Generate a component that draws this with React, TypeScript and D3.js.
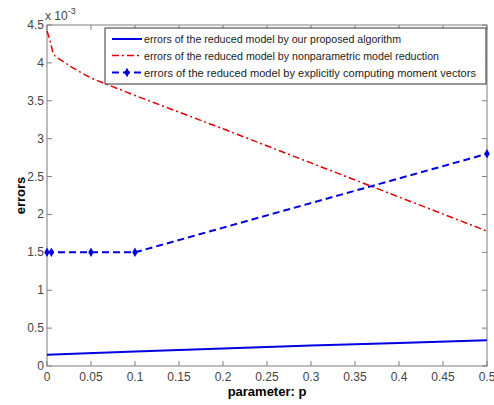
import React, { useEffect, useRef } from "react";
import * as d3 from "d3";

// values are in units of 1e-3
const propP = [0, 0.1, 0.2, 0.3, 0.4, 0.5];
const propErr = [0.15, 0.19, 0.23, 0.27, 0.305, 0.34];

const nonparP = [0, 0.002, 0.004, 0.007, 0.01, 0.03, 0.05, 0.1, 0.2, 0.3, 0.4, 0.5];
const nonparErr = [4.42, 4.35, 4.27, 4.12, 4.08, 3.93, 3.8, 3.57, 3.13, 2.68, 2.23, 1.78];

const explP = [0, 0.005, 0.05, 0.1, 0.5];
const explErr = [1.5, 1.5, 1.5, 1.5, 2.8];

const xTicks = [0, 0.05, 0.1, 0.15, 0.2, 0.25, 0.3, 0.35, 0.4, 0.45, 0.5];
const yTicks = [0, 0.5, 1, 1.5, 2, 2.5, 3, 3.5, 4, 4.5];

const legendLabels = [
  "errors of the reduced model by our proposed algorithm",
  "errors of the reduced model by nonparametric model reduction",
  "errors of the reduced model by explicitly computing moment vectors",
];

export default function App() {
  const ref = useRef<SVGSVGElement>(null);

  useEffect(() => {
    const svg = d3.select(ref.current);
    svg.selectAll("*").remove();
    const left = 47, right = 487, top = 25, bottom = 366;
    const x = d3.scaleLinear().domain([0, 0.5]).range([left, right]);
    const y = d3.scaleLinear().domain([0, 4.5]).range([bottom, top]);
    const font = "Arial, 'Liberation Sans', sans-serif";
    const axisCol = "#7f7f7f";
    const labCol = "#444";

    svg.append("rect").attr("width", 494).attr("height", 405).attr("fill", "#fff");

    // frame
    svg.append("rect")
      .attr("x", left).attr("y", top)
      .attr("width", right - left).attr("height", bottom - top)
      .attr("fill", "none").attr("stroke", axisCol).attr("stroke-width", 1);

    const tl = 5;
    xTicks.forEach(t => {
      svg.append("line").attr("x1", x(t)).attr("x2", x(t)).attr("y1", bottom).attr("y2", bottom - tl).attr("stroke", axisCol);
      svg.append("line").attr("x1", x(t)).attr("x2", x(t)).attr("y1", top).attr("y2", top + tl).attr("stroke", axisCol);
      svg.append("text").attr("x", x(t)).attr("y", bottom + 15)
        .attr("text-anchor", "middle").attr("font-family", font).attr("font-size", 12).attr("fill", labCol)
        .text(String(t));
    });
    yTicks.forEach(t => {
      svg.append("line").attr("x1", left).attr("x2", left + tl).attr("y1", y(t)).attr("y2", y(t)).attr("stroke", axisCol);
      svg.append("line").attr("x1", right).attr("x2", right - tl).attr("y1", y(t)).attr("y2", y(t)).attr("stroke", axisCol);
      svg.append("text").attr("x", left - 3).attr("y", y(t) + 4)
        .attr("text-anchor", "end").attr("font-family", font).attr("font-size", 12).attr("fill", labCol)
        .text(String(t));
    });

    // exponent
    const ex = svg.append("text").attr("x", left - 2).attr("y", 20)
      .attr("font-family", font).attr("font-size", 12).attr("fill", labCol);
    ex.append("tspan").text("x 10");
    ex.append("tspan").attr("dy", -6).attr("font-size", 9).text("-3");

    // axis labels
    svg.append("text").attr("x", (left + right) / 2).attr("y", 396)
      .attr("text-anchor", "middle").attr("font-family", font).attr("font-size", 13).attr("font-weight", "bold")
      .text("parameter: p");
    svg.append("text").attr("transform", `translate(25,${(top + bottom) / 2}) rotate(-90)`)
      .attr("text-anchor", "middle").attr("font-family", font).attr("font-size", 13).attr("font-weight", "bold")
      .text("errors");

    const line = d3.line<[number, number]>().x(d => x(d[0])).y(d => y(d[1]));
    const zip = (a: number[], b: number[]) => a.map((v, i) => [v, b[i]] as [number, number]);

    svg.append("path").attr("d", line(zip(propP, propErr))).attr("fill", "none")
      .attr("stroke", "#0000e0").attr("stroke-width", 2);
    svg.append("path").attr("d", line(zip(nonparP, nonparErr))).attr("fill", "none")
      .attr("stroke", "#e00000").attr("stroke-width", 1.5).attr("stroke-dasharray", "7,3,2,3");
    svg.append("path").attr("d", line(zip(explP, explErr))).attr("fill", "none")
      .attr("stroke", "#0000e0").attr("stroke-width", 2).attr("stroke-dasharray", "7,4");
    const star = d3.symbol().type(d3.symbolDiamond).size(12);
    zip(explP, explErr).forEach(d => {
      svg.append("path").attr("d", star()).attr("transform", `translate(${x(d[0])},${y(d[1])})`)
        .attr("fill", "#0000e0").attr("stroke", "#0000e0").attr("stroke-width", 1.5);
    });

    // legend
    const lx = 105, ly = 28, lw = right - 1 - lx, lh = 56;
    svg.append("rect").attr("x", lx).attr("y", ly).attr("width", lw).attr("height", lh)
      .attr("fill", "#fff").attr("stroke", "#333");
    const rows = [39, 55.5, 72.5];
    const widths = [257, 295, 332];
    const styles = [
      { c: "#0000e0", dash: null, w: 2 },
      { c: "#e00000", dash: "7,3,2,3", w: 1.5 },
      { c: "#0000e0", dash: "7,4", w: 2 },
    ];
    rows.forEach((ry, i) => {
      svg.append("line").attr("x1", 112).attr("x2", 142).attr("y1", ry).attr("y2", ry)
        .attr("stroke", styles[i].c).attr("stroke-width", styles[i].w)
        .attr("stroke-dasharray", styles[i].dash);
      if (i === 2) {
        svg.append("path").attr("d", star()).attr("transform", `translate(127,${ry})`)
          .attr("fill", "#0000e0").attr("stroke", "#0000e0").attr("stroke-width", 1.5);
      }
      svg.append("text").attr("x", 144).attr("y", ry + 4)
        .attr("font-family", font).attr("font-size", 11.5).attr("fill", "#222")
        .attr("textLength", widths[i]).attr("lengthAdjust", "spacingAndGlyphs")
        .text(legendLabels[i]);
    });
  }, []);

  return (
    <svg ref={ref} width={494} height={405}
      style={{ position: "absolute", left: 0, top: 0, display: "block" }} />
  );
}
